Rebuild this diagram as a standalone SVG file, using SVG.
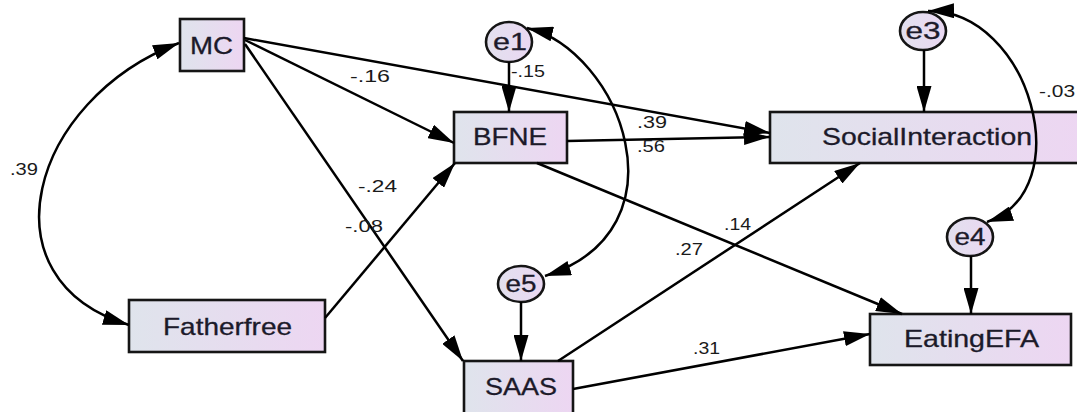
<svg xmlns="http://www.w3.org/2000/svg" width="1077" height="412" viewBox="0 0 1077 412">
  <defs>
    <linearGradient id="fillGrad" x1="0" y1="0" x2="1" y2="0">
      <stop offset="0" stop-color="#dfe4ec"/>
      <stop offset="1" stop-color="#edd6f2"/>
    </linearGradient>
    <linearGradient id="circGrad" x1="0" y1="0" x2="1" y2="0">
      <stop offset="0" stop-color="#e2e0ee"/>
      <stop offset="1" stop-color="#ead8f2"/>
    </linearGradient>
    <marker id="arrow" viewBox="0 0 26 15" refX="26" refY="7.5" markerWidth="26" markerHeight="15" markerUnits="userSpaceOnUse" orient="auto-start-reverse">
      <path d="M0,0 L26,7.5 L0,15 z" fill="#000"/>
    </marker>
    <style>
      .box { fill: url(#fillGrad); stroke: #151515; stroke-width: 2.6; }
      .err { fill: url(#circGrad); stroke: #151515; stroke-width: 2.6; }
      .name { font-family: "Liberation Sans", Arial, sans-serif; font-size: 24px; fill: #1c1a2a; text-anchor: middle; stroke: #1c1a2a; stroke-width: 0.3; }
      .coef { font-family: "Liberation Sans", Arial, sans-serif; font-size: 17px; fill: #1a1a1a; }
      .path { fill: none; stroke: #000; stroke-width: 2.5; marker-end: url(#arrow); }
      .cov { fill: none; stroke: #000; stroke-width: 2.5; marker-start: url(#arrow); marker-end: url(#arrow); }
    </style>
  </defs>

  <rect width="1077" height="412" fill="#fff"/>

  <!-- observed variables -->
  <g id="MC">
    <rect class="box" x="180" y="19" width="64" height="52"/>
    <text class="name" x="211.5" y="54" textLength="43" lengthAdjust="spacingAndGlyphs">MC</text>
  </g>
  <g id="BFNE">
    <rect class="box" x="454" y="112" width="113" height="51"/>
    <text class="name" x="510" y="145" textLength="74" lengthAdjust="spacingAndGlyphs">BFNE</text>
  </g>
  <g id="SocialInteraction">
    <rect class="box" x="770" y="112" width="312" height="51"/>
    <text class="name" x="927" y="145" textLength="210" lengthAdjust="spacingAndGlyphs">SocialInteraction</text>
  </g>
  <g id="Fatherfree">
    <rect class="box" x="129" y="300" width="196" height="52"/>
    <text class="name" x="227.5" y="335" textLength="129" lengthAdjust="spacingAndGlyphs">Fatherfree</text>
  </g>
  <g id="SAAS">
    <rect class="box" x="464" y="361" width="109" height="53"/>
    <text class="name" x="521" y="395" textLength="72" lengthAdjust="spacingAndGlyphs">SAAS</text>
  </g>
  <g id="EatingEFA">
    <rect class="box" x="870" y="314" width="201" height="51"/>
    <text class="name" x="971.5" y="347" textLength="135" lengthAdjust="spacingAndGlyphs">EatingEFA</text>
  </g>

  <!-- error terms -->
  <g id="e1">
    <ellipse class="err" cx="509" cy="42" rx="23" ry="20"/>
    <text class="name" x="510" y="50" textLength="34" lengthAdjust="spacingAndGlyphs">e1</text>
  </g>
  <g id="e3">
    <ellipse class="err" cx="923" cy="31" rx="23" ry="19"/>
    <text class="name" x="923" y="39" textLength="35" lengthAdjust="spacingAndGlyphs">e3</text>
  </g>
  <g id="e4">
    <ellipse class="err" cx="970" cy="237" rx="23" ry="19"/>
    <text class="name" x="970" y="245" textLength="31" lengthAdjust="spacingAndGlyphs">e4</text>
  </g>
  <g id="e5">
    <ellipse class="err" cx="521" cy="284" rx="23" ry="18"/>
    <text class="name" x="521" y="292" textLength="31" lengthAdjust="spacingAndGlyphs">e5</text>
  </g>

  <!-- regression paths and covariances -->
  <g id="connectors">
    <line class="path" x1="244" y1="38" x2="770" y2="133"/>
    <line class="path" x1="245" y1="40" x2="454" y2="143"/>
    <line class="path" x1="245" y1="44" x2="463" y2="361"/>
    <line class="path" x1="325" y1="318" x2="455" y2="163"/>
    <line class="path" x1="567" y1="141" x2="770" y2="137"/>
    <line class="path" x1="537" y1="163" x2="902" y2="314"/>
    <line class="path" x1="558" y1="361" x2="860" y2="163"/>
    <line class="path" x1="573" y1="389" x2="870" y2="334"/>
    <line class="path" x1="509" y1="62" x2="509" y2="112"/>
    <line class="path" x1="924" y1="50" x2="924" y2="112"/>
    <line class="path" x1="971" y1="256" x2="971" y2="314"/>
    <line class="path" x1="521" y1="302" x2="521" y2="361"/>
    <path class="cov" d="M179,43 C30,100 -20,280 129,325"/>
    <path class="cov" d="M527,28 C620,50 690,230 545,276"/>
    <path class="cov" d="M928,11 C1030,10 1080,190 987,222"/>
  </g>

  <!-- estimates -->
  <g id="estimates">
    <text class="coef" x="10" y="175" textLength="28" lengthAdjust="spacingAndGlyphs">.39</text>
    <text class="coef" x="350" y="82" textLength="40" lengthAdjust="spacingAndGlyphs">-.16</text>
    <text class="coef" x="511" y="77" textLength="34" lengthAdjust="spacingAndGlyphs">-.15</text>
    <text class="coef" x="637" y="128" textLength="30" lengthAdjust="spacingAndGlyphs">.39</text>
    <text class="coef" x="637" y="152" textLength="28" lengthAdjust="spacingAndGlyphs">.56</text>
    <text class="coef" x="358" y="192" textLength="39" lengthAdjust="spacingAndGlyphs">-.24</text>
    <text class="coef" x="345" y="232" textLength="38" lengthAdjust="spacingAndGlyphs">-.08</text>
    <text class="coef" x="675" y="255" textLength="28" lengthAdjust="spacingAndGlyphs">.27</text>
    <text class="coef" x="724" y="230" textLength="27" lengthAdjust="spacingAndGlyphs">.14</text>
    <text class="coef" x="693" y="354" textLength="27" lengthAdjust="spacingAndGlyphs">.31</text>
    <text class="coef" x="1039" y="97" textLength="36" lengthAdjust="spacingAndGlyphs">-.03</text>
  </g>
</svg>
